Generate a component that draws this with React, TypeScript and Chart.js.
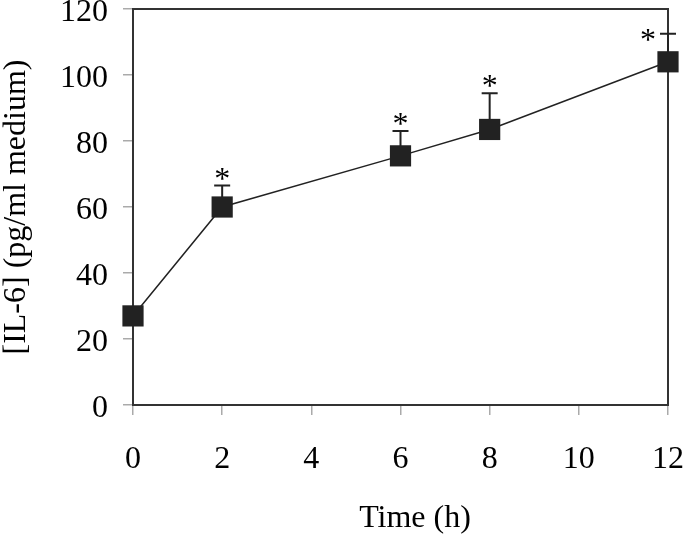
import { useEffect, useRef } from 'react';
import { Chart, registerables } from 'chart.js';

Chart.register(...registerables);

const timePoints = [0, 2, 6, 8, 12];
const il6Means = [27, 60, 75.5, 83.5, 104];
const il6SD = [0, 6.5, 7.5, 11, 8.5];
const significant = [false, true, true, true, true];
const xTickValues = [0, 2, 4, 6, 8, 10, 12];
const yTickValues = [0, 20, 40, 60, 80, 100, 120];
const xTitle = 'Time (h)';
const yTitle = '[IL-6] (pg/ml medium)';

const FONT = "'Liberation Serif', 'Times New Roman', serif";
const INK = '#222222';

const boxAndErrors = {
  id: 'boxAndErrors',
  beforeDatasetsDraw(chart: any) {
    const { ctx, chartArea: a, scales } = chart;
    const x = scales.x;
    const y = scales.y;
    ctx.save();
    // plot frame
    ctx.strokeStyle = '#333333';
    ctx.lineWidth = 2;
    ctx.strokeRect(a.left, a.top, a.right - a.left, a.bottom - a.top);
    // upward error bars
    ctx.strokeStyle = INK;
    ctx.lineWidth = 2;
    timePoints.forEach((t, i) => {
      if (!il6SD[i]) return;
      const px = x.getPixelForValue(t);
      const py = y.getPixelForValue(il6Means[i]);
      const pt = y.getPixelForValue(il6Means[i] + il6SD[i]);
      ctx.beginPath();
      ctx.moveTo(px, py);
      ctx.lineTo(px, pt);
      ctx.moveTo(px - 8, pt);
      ctx.lineTo(px + 8, pt);
      ctx.stroke();
    });
    ctx.restore();
  },
  afterDatasetsDraw(chart: any) {
    const { ctx, scales } = chart;
    const x = scales.x;
    const y = scales.y;
    ctx.save();
    ctx.fillStyle = '#000';
    ctx.font = `32px ${FONT}`;
    ctx.textAlign = 'center';
    ctx.textBaseline = 'alphabetic';
    timePoints.forEach((t, i) => {
      if (!significant[i]) return;
      const px = x.getPixelForValue(t);
      const pt = y.getPixelForValue(il6Means[i] + il6SD[i]);
      if (i === timePoints.length - 1) {
        ctx.fillText('*', px - 20, pt + 16);
      } else {
        ctx.fillText('*', px, pt + 3);
      }
    });
    // x axis title
    ctx.font = `32px ${FONT}`;
    ctx.textBaseline = 'middle';
    ctx.fillText(xTitle, 415, 519);
    ctx.restore();
  },
};

export default function App() {
  const ref = useRef<HTMLCanvasElement>(null);
  useEffect(() => {
    if (!ref.current) return;
    const chart = new Chart(ref.current, {
      type: 'line',
      data: {
        datasets: [
          {
            data: timePoints.map((t, i) => ({ x: t, y: il6Means[i] })),
            borderColor: INK,
            borderWidth: 1.5,
            backgroundColor: INK,
            pointStyle: 'rect',
            pointRadius: 15,
            pointBorderWidth: 0,
            pointBackgroundColor: INK,
            tension: 0,
            clip: false as any,
          },
        ],
      },
      options: {
        responsive: false,
        animation: false,
        events: [],
        layout: { autoPadding: false, padding: { top: 9, right: 15, left: 0, bottom: 0 } },
        plugins: { legend: { display: false }, tooltip: { enabled: false } },
        scales: {
          x: {
            type: 'linear',
            min: 0,
            max: 12,
            afterBuildTicks: (s: any) => {
              s.ticks = xTickValues.map((v) => ({ value: v }));
            },
            afterFit: (s: any) => {
              s.height = 133;
              s.paddingLeft = 0;
              s.paddingRight = 0;
            },
            ticks: {
              font: { family: FONT, size: 32 },
              color: '#000',
              padding: 25,
              maxRotation: 0,
              autoSkip: false,
            },
            grid: {
              drawOnChartArea: false,
              drawTicks: true,
              tickLength: 10,
              color: '#aaaaaa',
              lineWidth: 1.5,
            },
            border: { display: false },
          },
          y: {
            type: 'linear',
            min: 0,
            max: 120,
            afterBuildTicks: (s: any) => {
              s.ticks = yTickValues.map((v) => ({ value: v }));
            },
            afterFit: (s: any) => {
              s.width = 133;
              s.paddingTop = 0;
              s.paddingBottom = 0;
            },
            ticks: {
              font: { family: FONT, size: 32 },
              color: '#000',
              padding: 15,
              labelOffset: 4,
              autoSkip: false,
            },
            grid: {
              drawOnChartArea: false,
              drawTicks: true,
              tickLength: 10,
              color: '#aaaaaa',
              lineWidth: 1.5,
            },
            border: { display: false },
            title: {
              display: true,
              text: yTitle,
              color: '#000',
              font: { family: FONT, size: 32, lineHeight: 1.05 },
              padding: 0,
            },
          },
        },
      },
      plugins: [boxAndErrors],
    });
    return () => chart.destroy();
  }, []);
  return (
    <div style={{ position: 'fixed', left: 0, top: 0, width: 683, height: 538, background: '#fff' }}>
      <canvas ref={ref} width={683} height={538} style={{ display: 'block' }} />
    </div>
  );
}
